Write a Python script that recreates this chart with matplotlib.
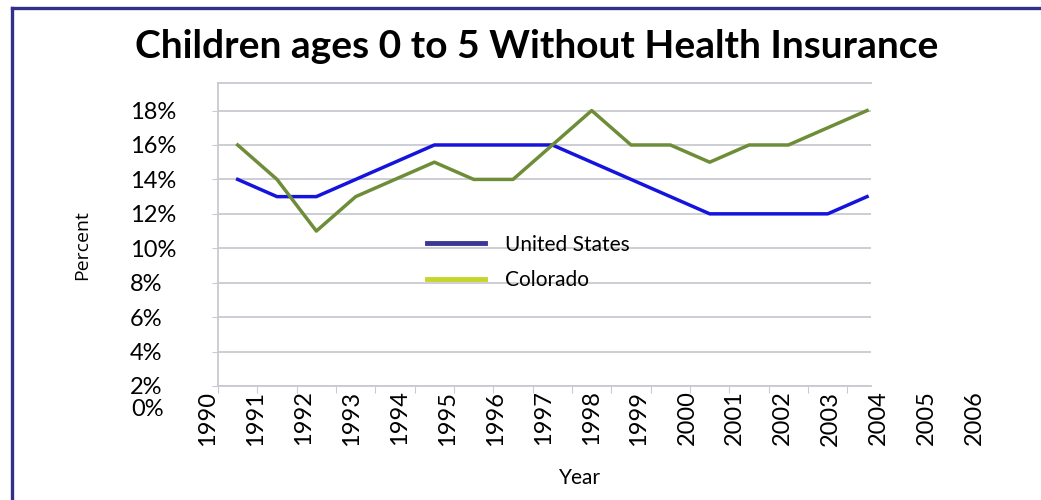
import numpy as np
import matplotlib as mpl
mpl.use('Agg')
import matplotlib.pyplot as plt
from matplotlib.lines import Line2D

years = ['1990', '1991', '1992', '1993', '1994', '1995', '1996', '1997', '1998',
         '1999', '2000', '2001', '2002', '2003', '2004', '2005', '2006']
us = [14, 13, 13, 14, 15, 16, 16, 16, 16, 15, 14, 13, 12, 12, 12, 12, 13]
colorado = [16, 14, 11, 13, 14, 15, 14, 14, 16, 18, 16, 16, 15, 16, 16, 17, 18]
yticks = [2, 4, 6, 8, 10, 12, 14, 16, 18]

plt.rcParams['font.family'] = ['Lato', 'DejaVu Sans']

W, H = 1041, 500
fig = plt.figure(figsize=(W / 100, H / 100), dpi=100)
ax = fig.add_axes([218 / W, 1 - 386 / H, 653 / W, 303 / H])

grid_c = '#c9c9d1'
x = np.arange(len(us))
ax.plot(x, us, color='#1414dc', lw=2.5, zorder=3)
ax.plot(x, colorado, color='#6e8d38', lw=2.5, zorder=3)

ax.set_xlim(-0.5, 16.1)
ax.set_ylim(2, 19.6)
ax.set_yticks(yticks)
ax.set_yticklabels(['%d%%' % v for v in yticks])
ax.yaxis.grid(True, color=grid_c, lw=1.3)
ax.set_axisbelow(True)
for lbl in ax.get_yticklabels():
    lbl.set_ha('left')
ax.tick_params(axis='y', length=4, color=grid_c, pad=59.5, labelsize=17)

# category boundaries as tick marks, year labels drawn separately
ax.set_xticks(np.arange(-0.5, 16, 1))
ax.set_xticklabels([])
ax.tick_params(axis='x', length=5, color=grid_c)

for s in ['left', 'bottom', 'top']:
    ax.spines[s].set_color(grid_c)
    ax.spines[s].set_linewidth(1.3)
ax.spines['right'].set_visible(False)

lab_x = np.arange(len(years)) * 1.218 - 0.76
for xi, yr in zip(lab_x, years):
    ax.text(xi, -0.015, yr, rotation=90, ha='center', va='top', fontsize=17,
            transform=ax.get_xaxis_transform(), clip_on=False)

fig.text(131 / W, 1 - 410 / H, '0%', ha='left', va='center', fontsize=17)

fig.text(580 / W, 1 - 478 / H, 'Year', ha='center', va='center', fontsize=15)
fig.text(82 / W, 1 - 245 / H, 'Percent', ha='center', va='center', rotation=90,
         fontsize=14, family=['Open Sans', 'DejaVu Sans'])

fig.text(537 / W, 1 - 47 / H, 'Children ages 0 to 5 Without Health Insurance',
         ha='center', va='center', fontsize=28, fontweight='bold')

handles = [Line2D([], [], color='#3b3796', lw=3.5),
           Line2D([], [], color='#c4d62c', lw=3.5)]
ax.legend(handles, ['United States', 'Colorado'], loc='center left',
          bbox_to_anchor=(0.32, 0.408), frameon=False, fontsize=15,
          handlelength=2.8, handletextpad=0.95, labelspacing=0.75,
          borderpad=0, borderaxespad=0)

border = '#33308a'
fig.add_artist(Line2D([12 / W, 12 / W], [0, 1 - 8 / H], color=border, lw=2.4,
                      transform=fig.transFigure))
fig.add_artist(Line2D([12 / W, 1], [1 - 8 / H, 1 - 8 / H], color=border, lw=2.4,
                      transform=fig.transFigure))

fig.savefig('out.png', dpi=100)
